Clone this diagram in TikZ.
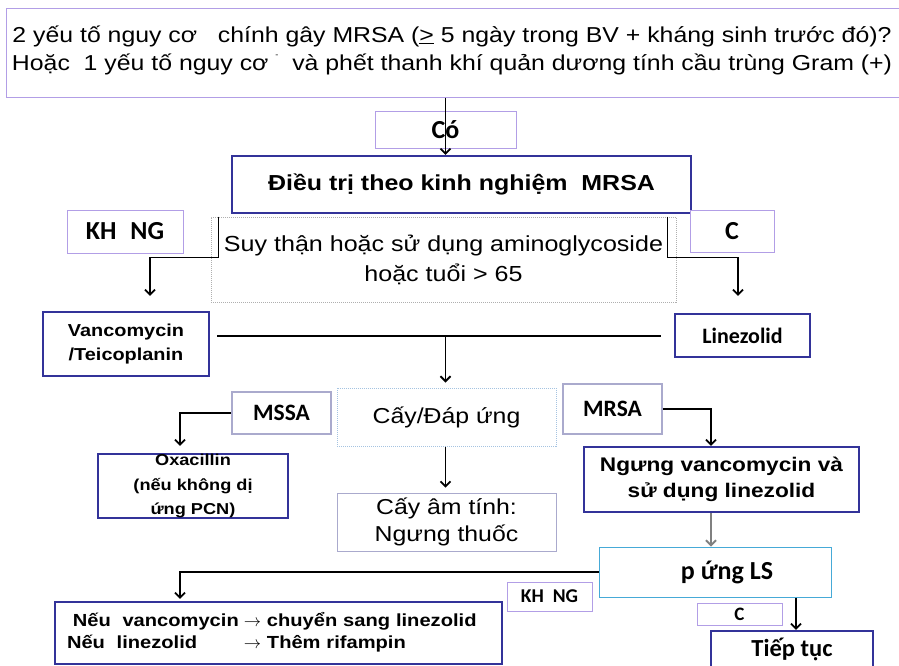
\documentclass[tikz,border=0pt]{standalone}
\usepackage{fontspec}
\setmainfont{Liberation Sans}[FakeStretch=1.15]
\newfontfamily\narrowfont{Carlito}
\usepackage[rgb]{xcolor}
\usetikzlibrary{arrows.meta}

\definecolor{dkblue}{RGB}{51,51,153}
\definecolor{lavline}{RGB}{178,158,230}
\definecolor{tagline}{RGB}{170,170,205}
\definecolor{greyline}{RGB}{175,175,175}
\definecolor{skyline}{RGB}{165,195,225}
\definecolor{cyanline}{RGB}{70,170,215}

\newcommand{\fsz}[2]{\fontsize{#1}{#2}\selectfont}

\begin{document}
\begin{tikzpicture}
  [x=1pt,y=-1pt,
   every node/.style={inner sep=0pt,align=center},
   dkbox/.style={draw=dkblue,line width=2.4pt,fill=white},
   lavbox/.style={draw=lavline,line width=1pt,fill=white},
   tagbox/.style={draw=tagline,line width=1.8pt,fill=white},
   dotbox/.style={densely dotted,line width=1pt,fill=white},
   tagfont/.style={font=\narrowfont\bfseries\fsz{#1}{#1}},
   arr/.style={-{Straight Barb[length=5pt,width=10pt]},line width=1.8pt}]

  \useasboundingbox (0,0) rectangle (899,665);

  \node[lavbox,minimum width=899pt,minimum height=89pt] (q) at (455.5,52.5) {};
  \node[font=\fsz{21.6}{28}] (qt) at (452,50) {2 yếu tố nguy cơ\ \ \ chính gây MRSA (\underline{>} 5 ngày trong BV + kháng sinh trước đó)?\\Hoặc\ \ 1 yếu tố nguy cơ\ \raisebox{1.1ex}{\fsz{8}{8}-}\ \ và phết thanh khí quản dương tính cầu trùng Gram (+)};

  \node[lavbox,minimum width=141pt,minimum height=37pt,tagfont=26] (co) at (445.5,129.5) {Có};
  \node[dkbox,minimum width=459pt,minimum height=57pt,font=\bfseries\fsz{21.7}{26}] (dt) at (461.5,184.5) {Điều trị theo kinh nghiệm\ \ MRSA};
  \node[dotbox,draw=greyline,minimum width=465pt,minimum height=85pt,font=\fsz{21.8}{30}] (suy) at (443.5,259.5) {Suy thận hoặc sử dụng aminoglycoside\\hoặc tuổi > 65};
  \node[lavbox,minimum width=116pt,minimum height=43pt,tagfont=26] (kh1) at (125,231.5) {KH\hspace{14pt}NG};
  \node[lavbox,minimum width=84pt,minimum height=42pt,tagfont=26] (c1) at (732,231) {C};

  \node[dkbox,minimum width=166pt,minimum height=64pt,font=\bfseries\fsz{17.3}{24}] (vanco) at (126,344) {Vancomycin\\/Teicoplanin};
  \node[dkbox,minimum width=135pt,minimum height=43pt,tagfont=22] (linez) at (742.5,335.5) {Linezolid};
  \coordinate (jl) at (217,336);
  \coordinate (jr) at (661,336);

  \node[dotbox,draw=skyline,minimum width=219pt,minimum height=58pt,font=\fsz{21.6}{26}] (cay) at (446.5,417) {Cấy/Đáp ứng};
  \node[tagbox,minimum width=99pt,minimum height=42pt,tagfont=23.5] (mssa) at (281.5,413) {MSSA};
  \node[tagbox,minimum width=99pt,minimum height=50pt,tagfont=23.5] (mrsa) at (612.5,409) {MRSA};
  \node[dkbox,minimum width=190pt,minimum height=64pt,font=\bfseries\fsz{15.8}{24.5}] (oxa) at (193,486) {Oxacillin\\(nếu không dị\\ứng PCN)};
  \node[dkbox,minimum width=275pt,minimum height=65pt,font=\bfseries\fsz{19.7}{26}] (ngung) at (721.5,479.5) {Ngưng vancomycin và\\sử dụng linezolid};
  \node[draw=tagline,line width=.8pt,fill=white,minimum width=219pt,minimum height=58pt,font=\fsz{21.6}{27}] (amtinh) at (446.5,522) {Cấy âm tính:\\Ngưng thuốc};

  \node[draw=cyanline,line width=1pt,fill=white,minimum width=232pt,minimum height=50pt,tagfont=26] (ung) at (715,572) {\hspace*{24pt}p ứng LS};
  \node[lavbox,minimum width=85pt,minimum height=29pt,tagfont=19.5] (kh2) at (549.5,596.5) {KH\hspace{9pt}NG};
  \node[dkbox,minimum width=447pt,minimum height=62pt,text width=423pt,align=left,font=\bfseries\fsz{17.5}{22}] (neu) at (278.5,633) {\begin{tabular}{@{}l@{}l@{}}\ Nếu\ \ vancomycin\hspace{5pt} & $\rightarrow$ chuyển sang linezolid\\Nếu\ \ linezolid & $\rightarrow$ Thêm rifampin\end{tabular}};
  \node[lavbox,minimum width=85pt,minimum height=22pt,tagfont=19] (c2) at (739.5,614) {C};
  \node[dkbox,minimum width=162pt,minimum height=50pt,text depth=18pt,tagfont=24.5] (tiep) at (792,656) {Tiếp tục};

  \draw[arr] (q.south -| co) -- (dt.north -| co);
  \draw[arr] ([xshift=8pt]suy.north west) -- ++(0,41) -| ([xshift=24pt,yshift=15pt]vanco.north);
  \draw[arr] ([xshift=-9pt]suy.north east) -- ++(0,41) -| ([xshift=-4.5pt,yshift=17pt]linez.north);
  \draw[line width=2.4pt] (jl) -- (jr);
  \draw[arr] (jl -| co) -- ([yshift=5pt]cay.north -| co);
  \draw[arr] (cay.south -| co) -- ([yshift=5pt]amtinh.north -| co);
  \draw[arr] (mssa.west) -| ([xshift=-13pt,yshift=7pt]oxa.north);
  \draw[arr] (mrsa.east) -| ([xshift=-10.5pt]ngung.north);
  \draw[arr,gray] ([xshift=-10.5pt]ngung.south) -- ([xshift=-10.5pt]ngung.south |- ung.north);
  \draw[arr] (ung.west) -| ([xshift=-98.5pt,yshift=2pt]neu.north);
  \draw[arr] ([xshift=4pt]tiep.north |- ung.south) -- ([xshift=4pt]tiep.north);

\end{tikzpicture}
\end{document}
